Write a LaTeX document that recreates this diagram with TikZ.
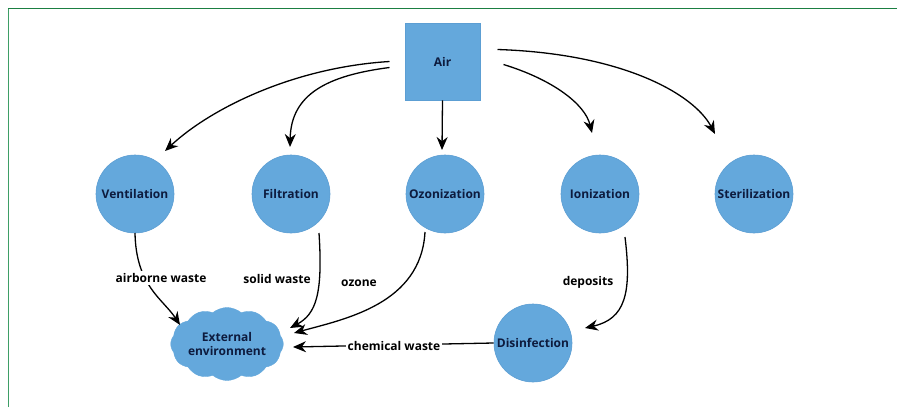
\documentclass[tikz,border=0pt]{standalone}
\usepackage{fontspec}
\setmainfont{Open Sans}
\usetikzlibrary{shapes.symbols,arrows.meta,calc}
\definecolor{nodeblue}{HTML}{64A8DC}
\definecolor{nodeedge}{HTML}{5C9ED3}
\definecolor{frametop}{HTML}{1B7F42}
\definecolor{frameleft}{HTML}{3E9E66}
\definecolor{navy}{HTML}{0D1B3E}
\tikzset{
  proc/.style={circle,fill=nodeblue,draw=nodeedge,line width=0.6pt,minimum size=78pt,inner sep=0pt,
    font=\bfseries\fontsize{12}{13.5}\selectfont,text=navy},
  airbox/.style={rectangle,fill=nodeblue,draw=nodeedge,line width=0.6pt,minimum width=75pt,minimum height=77pt,
    font=\bfseries\fontsize{12}{13.5}\selectfont,text=navy},
  envcloud/.style={cloud,cloud puffs=12,cloud puff arc=80,aspect=1.7,fill=nodeblue,draw=nodeblue,
    minimum width=104pt,minimum height=60pt,
    inner sep=0pt,align=center,font=\bfseries\fontsize{12}{13.5}\selectfont,text=navy},
  flow/.style={line width=1.3pt,-{Stealth[length=13pt,width=11pt]}},
  lbl/.style={fill=white,inner sep=2pt,font=\bfseries\fontsize{12}{13.5}\selectfont,text=black}
}
\begin{document}
\begin{tikzpicture}[x=1pt,y=-1pt]
\useasboundingbox (0,0) rectangle (897,407);
\fill[white] (0,0) rectangle (897,407);
\draw[frameleft,line width=1.3pt] (8.5,407) -- (8.5,8);
\draw[frametop,line width=1.6pt] (7.8,8.5) -- (897,8.5);

\node[airbox] (air) at (442.5,61.5) {Air};
\node[proc] (vent) at (135,194) {Ventilation};
\node[proc] (filt) at (291,194) {Filtration};
\node[proc] (ozon) at (445,194) {Ozonization};
\node[proc] (ioni) at (600,194) {Ionization};
\node[proc] (ster) at (754,194) {Sterilization};
\node[proc] (disi) at (533,343) {Disinfection};
\node[envcloud] (env) at (227,344) {External\\environment};

% Air to treatments
\draw[flow] ($(air.center)+(-53,0)$) .. controls ($(air.center)+(-150,6)$) and ($(vent.center)+(75,-85)$) .. ($(vent.center)+(30,-43)$);
\draw[flow] ($(air.center)+(-53,6)$) .. controls ($(air.center)+(-115,14)$) and ($(filt.center)+(0,-100)$) .. ($(filt.center)+(-1,-47)$);
\draw[flow] (air.south) -- ($(ozon.center)+(-3,-44)$);
\draw[flow] ($(air.center)+(61,3)$) .. controls ($(air.center)+(110,18)$) and ($(ioni.center)+(-15,-90)$) .. ($(ioni.center)+(-8,-61)$);
\draw[flow] ($(air.center)+(55,-12)$) .. controls ($(air.center)+(180,-8)$) and ($(ster.center)+(-60,-100)$) .. ($(ster.center)+(-39,-60)$);

% treatments to outputs
\draw[flow] ($(vent.center)+(0,39)$) .. controls ($(vent.center)+(1,92)$) and ($(vent.center)+(28,105)$) .. ($(env.center)+(-47,-19)$);
\draw[flow] ($(filt.center)+(28,39)$) .. controls ($(filt.center)+(32,100)$) and ($(filt.center)+(25,120)$) .. ($(env.center)+(63,-16)$);
\draw[flow] ($(ozon.center)+(-20,38)$) .. controls ($(ozon.center)+(-24,110)$) and ($(ozon.center)+(-100,125)$) .. ($(env.center)+(67,-11)$);
\draw[flow] ($(ioni.center)+(25,43)$) .. controls ($(ioni.center)+(32,100)$) and ($(ioni.center)+(25,125)$) .. ($(disi.center)+(52,-15)$);
\draw[flow] (disi.west) -- ($(env.center)+(66,3)$);

\node[lbl] (l1) at (161,278) {airborne waste};
\node[lbl] (l2) at (277,279) {solid waste};
\node[lbl] (l3) at (359,283) {ozone};
\node[lbl] (l4) at (588,282) {deposits};
\node[lbl] (l5) at (394,346) {chemical waste};
\end{tikzpicture}
\end{document}
